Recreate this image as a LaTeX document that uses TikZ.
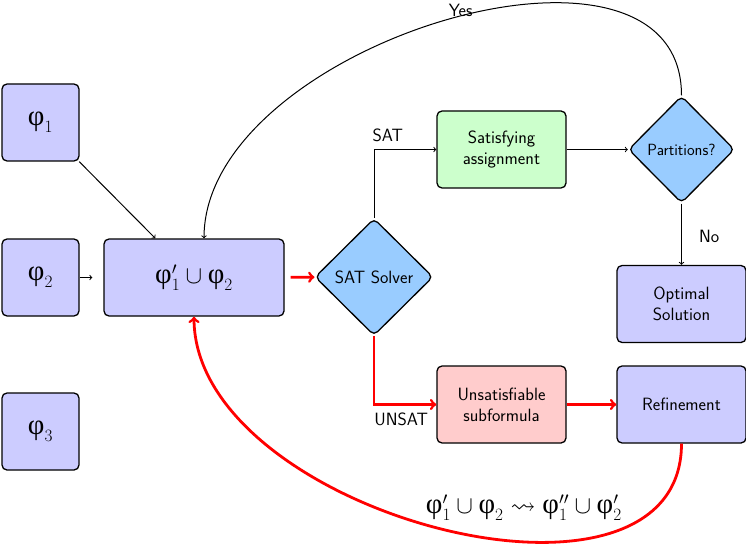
\documentclass[tikz,border=0pt]{standalone}
\usepackage{amsmath,amssymb}
\usepackage{fontspec}
\newfontfamily\greekfont[Scale=1.15]{Liberation Serif}
\usetikzlibrary{shapes.geometric}

\definecolor{boxblue}{HTML}{CCCCFF}
\definecolor{boxgreen}{HTML}{CCFFCC}
\definecolor{boxred}{HTML}{FFCCCC}
\definecolor{diamblue}{HTML}{99CCFF}

\newcommand{\nodefont}{\fontsize{17.8}{21}\selectfont\sffamily}
\newcommand{\smallnodefont}{\fontsize{16.2}{19}\selectfont\sffamily}
\newcommand{\formulafont}{\fontsize{25}{30}\selectfont}
\newcommand{\vph}{\text{\greekfont φ}}

\tikzset{
  framed/.style={draw=black, line width=1.3pt, rounded corners=5pt},
  blockbox/.style={framed, minimum width=129pt, minimum height=77pt,
    align=center, inner sep=0pt, font=\nodefont},
  formbox/.style={framed, fill=boxblue, minimum width=77pt,
    minimum height=77pt, inner sep=0pt, font=\formulafont},
  decision/.style={diamond, framed, fill=diamblue, inner sep=0pt,
    align=center, font=\nodefont},
  blk/.style={->, line width=1pt},
  redarr/.style={->, red, line width=2.8pt},
  edgelabel/.style={inner sep=0pt, text=black, font=\nodefont},
}

\begin{document}
\begin{tikzpicture}[x=1pt, y=-1pt]
\useasboundingbox (0,0) rectangle (746,545);

% formula boxes
\node[formbox] (phi1) at (40.5,122.5) {$\vph_1$};
\node[formbox] (phi2) at (40.5,277.5) {$\vph_2$};
\node[formbox] (phi3) at (40.5,431.5) {$\vph_3$};
\node[formbox, minimum width=180pt] (main) at (194,277.5) {$\vph_1'\cup\vph_2$};

% solver loop
\node[decision, minimum width=118pt, minimum height=117pt] (sat) at (374,277) {SAT Solver};
\node[blockbox, fill=boxgreen] (satis) at (501.5,149.5) {Satisfying\\assignment};
\node[decision, minimum width=106pt, minimum height=107pt, font=\smallnodefont] (part) at (681.5,149.5) {Partitions?};
\node[blockbox, fill=boxblue] (opt) at (681.5,304) {Optimal\\Solution};
\node[blockbox, fill=boxred] (unsat) at (501.5,404.5) {Unsatisfiable\\subformula};
\node[blockbox, fill=boxblue] (ref) at (681.5,404.5) {Refinement};

% connectors
\draw[blk] (phi1) -- (main);
\draw[blk, shorten >=11pt] (phi2) -- (main);
\draw[redarr, shorten <=6pt] (main) -- (sat);
\draw[blk] (sat.north) |- node[pos=.5, edgelabel, anchor=south west, xshift=-2pt, yshift=7pt] {SAT} (satis.west);
\draw[blk] (satis) -- (part);
\draw[blk] (part) -- node[edgelabel, anchor=west, xshift=17pt, yshift=-2pt] {No} (opt);
\draw[blk] (part.north) to[out=90, in=90]
  node[pos=.475, edgelabel, anchor=south, yshift=-1pt] {Yes} ([xshift=10pt]main.north);
\draw[redarr] (sat.south) |- node[pos=.5, edgelabel, anchor=north west, xshift=-1pt, yshift=-7pt] {UNSAT} (unsat.west);
\draw[redarr] (unsat) -- (ref);
\draw[redarr] (ref.south) to[out=270, in=270]
  node[pos=.38, edgelabel, anchor=south, yshift=20pt, font=\formulafont]
  {$\vph_1'\cup\vph_2\rightsquigarrow\vph_1''\cup\vph_2'$} (main.south);
\end{tikzpicture}
\end{document}
